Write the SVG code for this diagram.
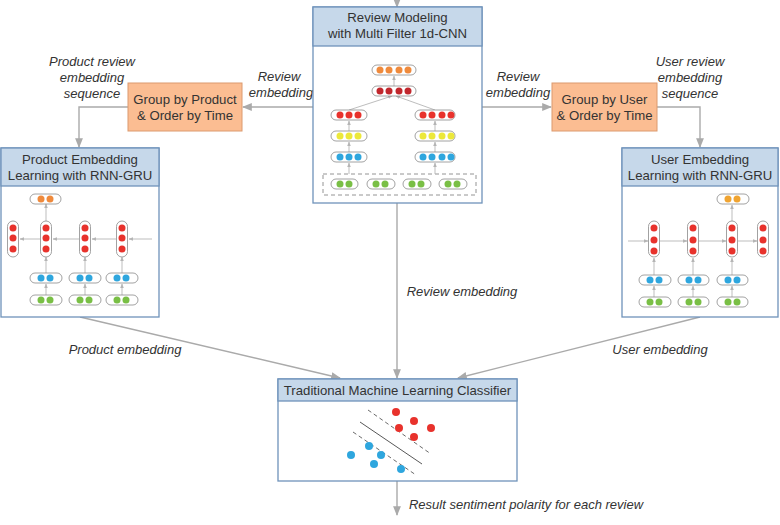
<svg xmlns="http://www.w3.org/2000/svg" width="780" height="525" viewBox="0 0 780 525">
<defs>
<style>
.box{fill:#fff;stroke:#6f93ba;stroke-width:1.3}
.hdr{fill:#c6d8ea;stroke:#6f93ba;stroke-width:1.3}
.org{fill:#fbbd92;stroke:#dc9a6e;stroke-width:1}
.t{font-family:"Liberation Sans",Arial,sans-serif;font-size:13.2px;fill:#333;text-anchor:middle}
.lbl{font-family:"Liberation Sans",Arial,sans-serif;font-size:13px;font-style:italic;fill:#333;text-anchor:middle}
.con{fill:none;stroke:#aaa;stroke-width:1.4}
.in{fill:none;stroke:#b5b5b5;stroke-width:0.9}
.pill{fill:#fff;stroke:#8a8a8a;stroke-width:0.8}
.o{fill:#ef8a3c}.dr{fill:#c1272d}.r{fill:#e8322c}.y{fill:#ece83a}.b{fill:#2ea6de}.g{fill:#79bf45}
</style>
<marker id="ah" viewBox="0 0 10 10" refX="9" refY="5" markerWidth="7" markerHeight="7" orient="auto"><path d="M0,1 L10,5 L0,9 z" fill="#aaa"/></marker>
<marker id="sa" viewBox="0 0 10 10" refX="9" refY="5" markerWidth="5" markerHeight="5" orient="auto"><path d="M0,1 L10,5 L0,9 z" fill="#b5b5b5"/></marker>
</defs>

<g id="connectors">
<line class="con" x1="397" y1="0" x2="397" y2="7" marker-end="url(#ah)"/>
<line class="con" x1="313" y1="107" x2="243" y2="107" marker-end="url(#ah)"/>
<polyline class="con" points="128,107 79,107 79,147" marker-end="url(#ah)"/>
<line class="con" x1="482" y1="107" x2="551" y2="107" marker-end="url(#ah)"/>
<polyline class="con" points="657,107 700,107 700,147" marker-end="url(#ah)"/>
<line class="con" x1="397" y1="203" x2="397" y2="378" marker-end="url(#ah)"/>
<line class="con" x1="80" y1="317" x2="340" y2="378" marker-end="url(#ah)"/>
<line class="con" x1="700" y1="317" x2="458" y2="378" marker-end="url(#ah)"/>
<line class="con" x1="397" y1="481" x2="397" y2="515" marker-end="url(#ah)"/>
<text class="lbl" x="92" y="66">Product review</text>
<text class="lbl" x="92" y="82">embedding</text>
<text class="lbl" x="92" y="98">sequence</text>
<text class="lbl" x="279" y="81">Review</text>
<text class="lbl" x="281" y="97">embedding</text>
<text class="lbl" x="518" y="81">Review</text>
<text class="lbl" x="518" y="97">embedding</text>
<text class="lbl" x="690" y="66">User review</text>
<text class="lbl" x="690" y="82">embedding</text>
<text class="lbl" x="690" y="98">sequence</text>
<text class="lbl" x="462" y="296">Review embedding</text>
<text class="lbl" x="125" y="354">Product embedding</text>
<text class="lbl" x="660" y="354">User embedding</text>
<text class="lbl" x="526" y="509">Result sentiment polarity for each review</text>
</g>

<g id="cnn">
<rect class="box" x="313" y="7" width="169" height="196"/>
<rect class="hdr" x="313" y="7" width="169" height="39"/>
<text class="t" x="397.5" y="22">Review Modeling</text>
<text class="t" x="397.5" y="38">with Multi Filter 1d-CNN</text>
<rect x="323" y="174" width="153" height="21" fill="none" stroke="#888" stroke-width="0.9" stroke-dasharray="4,3"/>
<line class="in" x1="349" y1="174" x2="349" y2="163" marker-end="url(#sa)"/>
<line class="in" x1="349" y1="152" x2="349" y2="142" marker-end="url(#sa)"/>
<line class="in" x1="349" y1="131" x2="349" y2="121" marker-end="url(#sa)"/>
<line class="in" x1="435" y1="174" x2="435" y2="163" marker-end="url(#sa)"/>
<line class="in" x1="435" y1="152" x2="435" y2="142" marker-end="url(#sa)"/>
<line class="in" x1="435" y1="131" x2="435" y2="121" marker-end="url(#sa)"/>
<line class="in" x1="349" y1="110" x2="392" y2="96" marker-end="url(#sa)"/>
<line class="in" x1="435" y1="110" x2="396" y2="96" marker-end="url(#sa)"/>
<line class="in" x1="394" y1="86" x2="394" y2="76" marker-end="url(#sa)"/>
<rect class="pill" x="372" y="65" width="44" height="10" rx="5"/>
<circle class="o" cx="380" cy="70" r="3.5"/><circle class="o" cx="389" cy="70" r="3.5"/><circle class="o" cx="399" cy="70" r="3.5"/><circle class="o" cx="408" cy="70" r="3.5"/>
<rect class="pill" x="372" y="86" width="44" height="10" rx="5"/>
<circle class="dr" cx="380" cy="91" r="3.5"/><circle class="dr" cx="389" cy="91" r="3.5"/><circle class="dr" cx="399" cy="91" r="3.5"/><circle class="dr" cx="408" cy="91" r="3.5"/>
<rect class="pill" x="331" y="110" width="36" height="10" rx="5"/>
<circle class="r" cx="340" cy="115" r="3.5"/><circle class="r" cx="349" cy="115" r="3.5"/><circle class="r" cx="358" cy="115" r="3.5"/>
<rect class="pill" x="331" y="131" width="36" height="10" rx="5"/>
<circle class="y" cx="340" cy="136" r="3.5"/><circle class="y" cx="349" cy="136" r="3.5"/><circle class="y" cx="358" cy="136" r="3.5"/>
<rect class="pill" x="331" y="152" width="36" height="10" rx="5"/>
<circle class="b" cx="340" cy="157" r="3.5"/><circle class="b" cx="349" cy="157" r="3.5"/><circle class="b" cx="358" cy="157" r="3.5"/>
<rect class="pill" x="415" y="110" width="40" height="10" rx="5"/>
<circle class="r" cx="423" cy="115" r="3.5"/><circle class="r" cx="432" cy="115" r="3.5"/><circle class="r" cx="442" cy="115" r="3.5"/><circle class="r" cx="451" cy="115" r="3.5"/>
<rect class="pill" x="415" y="131" width="40" height="10" rx="5"/>
<circle class="y" cx="423" cy="136" r="3.5"/><circle class="y" cx="432" cy="136" r="3.5"/><circle class="y" cx="442" cy="136" r="3.5"/><circle class="y" cx="451" cy="136" r="3.5"/>
<rect class="pill" x="415" y="152" width="40" height="10" rx="5"/>
<circle class="b" cx="423" cy="157" r="3.5"/><circle class="b" cx="432" cy="157" r="3.5"/><circle class="b" cx="442" cy="157" r="3.5"/><circle class="b" cx="451" cy="157" r="3.5"/>
<rect class="pill" x="331" y="179" width="27" height="10" rx="5"/>
<circle class="g" cx="340" cy="184" r="3.5"/><circle class="g" cx="349" cy="184" r="3.5"/>
<rect class="pill" x="367" y="179" width="28" height="10" rx="5"/>
<circle class="g" cx="376" cy="184" r="3.5"/><circle class="g" cx="385" cy="184" r="3.5"/>
<rect class="pill" x="403" y="179" width="28" height="10" rx="5"/>
<circle class="g" cx="412" cy="184" r="3.5"/><circle class="g" cx="421" cy="184" r="3.5"/>
<rect class="pill" x="439" y="179" width="28" height="10" rx="5"/>
<circle class="g" cx="448" cy="184" r="3.5"/><circle class="g" cx="457" cy="184" r="3.5"/>
</g>

<g id="group-product">
<rect class="org" x="128" y="83" width="114" height="48"/>
<text class="t" x="185" y="104">Group by Product</text>
<text class="t" x="185" y="120">&amp; Order by Time</text>
</g>

<g id="group-user">
<rect class="org" x="552" y="83" width="105" height="48"/>
<text class="t" x="604.5" y="104">Group by User</text>
<text class="t" x="604.5" y="120">&amp; Order by Time</text>
</g>

<g id="product-rnn">
<rect class="box" x="1" y="148" width="158" height="169"/>
<rect class="hdr" x="1" y="148" width="158" height="38"/>
<text class="t" x="80" y="164">Product Embedding</text>
<text class="t" x="80" y="180">Learning with RNN-GRU</text>
<line class="in" x1="152" y1="239" x2="129" y2="239" marker-end="url(#sa)"/>
<line class="in" x1="116" y1="239" x2="92" y2="239" marker-end="url(#sa)"/>
<line class="in" x1="79" y1="239" x2="53" y2="239" marker-end="url(#sa)"/>
<line class="in" x1="40" y1="239" x2="20" y2="239" marker-end="url(#sa)"/>
<line class="in" x1="46" y1="221" x2="46" y2="204" marker-end="url(#sa)"/>
<line class="in" x1="46" y1="295" x2="46" y2="284" marker-end="url(#sa)"/>
<line class="in" x1="46" y1="273" x2="46" y2="257" marker-end="url(#sa)"/>
<line class="in" x1="85" y1="295" x2="85" y2="284" marker-end="url(#sa)"/>
<line class="in" x1="85" y1="273" x2="85" y2="257" marker-end="url(#sa)"/>
<line class="in" x1="122" y1="295" x2="122" y2="284" marker-end="url(#sa)"/>
<line class="in" x1="122" y1="273" x2="122" y2="257" marker-end="url(#sa)"/>
<rect class="pill" x="30" y="194" width="31" height="10" rx="5"/>
<circle class="o" cx="41" cy="199" r="3.5"/><circle class="o" cx="50" cy="199" r="3.5"/>
<rect class="pill" x="7.5" y="221" width="11" height="36" rx="5.5"/>
<circle class="r" cx="13" cy="228" r="3.5"/><circle class="r" cx="13" cy="238" r="3.5"/><circle class="r" cx="13" cy="249" r="3.5"/>
<rect class="pill" x="40.5" y="221" width="11" height="36" rx="5.5"/>
<circle class="r" cx="46" cy="228" r="3.5"/><circle class="r" cx="46" cy="238" r="3.5"/><circle class="r" cx="46" cy="249" r="3.5"/>
<rect class="pill" x="79.5" y="221" width="11" height="36" rx="5.5"/>
<circle class="r" cx="85" cy="228" r="3.5"/><circle class="r" cx="85" cy="238" r="3.5"/><circle class="r" cx="85" cy="249" r="3.5"/>
<rect class="pill" x="116.5" y="221" width="11" height="36" rx="5.5"/>
<circle class="r" cx="122" cy="228" r="3.5"/><circle class="r" cx="122" cy="238" r="3.5"/><circle class="r" cx="122" cy="249" r="3.5"/>
<rect class="pill" x="30" y="273" width="32" height="10" rx="5"/>
<circle class="b" cx="41" cy="278" r="3.5"/><circle class="b" cx="50" cy="278" r="3.5"/>
<rect class="pill" x="69" y="273" width="32" height="10" rx="5"/>
<circle class="b" cx="80" cy="278" r="3.5"/><circle class="b" cx="89" cy="278" r="3.5"/>
<rect class="pill" x="106" y="273" width="32" height="10" rx="5"/>
<circle class="b" cx="117" cy="278" r="3.5"/><circle class="b" cx="126" cy="278" r="3.5"/>
<rect class="pill" x="30" y="295" width="32" height="10" rx="5"/>
<circle class="g" cx="41" cy="300" r="3.5"/><circle class="g" cx="50" cy="300" r="3.5"/>
<rect class="pill" x="69" y="295" width="32" height="10" rx="5"/>
<circle class="g" cx="80" cy="300" r="3.5"/><circle class="g" cx="89" cy="300" r="3.5"/>
<rect class="pill" x="106" y="295" width="32" height="10" rx="5"/>
<circle class="g" cx="117" cy="300" r="3.5"/><circle class="g" cx="126" cy="300" r="3.5"/>
</g>

<g id="user-rnn">
<rect class="box" x="622" y="148" width="156" height="169"/>
<rect class="hdr" x="622" y="148" width="156" height="38"/>
<text class="t" x="700" y="164">User Embedding</text>
<text class="t" x="700" y="180">Learning with RNN-GRU</text>
<line class="in" x1="628" y1="241" x2="648" y2="241" marker-end="url(#sa)"/>
<line class="in" x1="660" y1="241" x2="687" y2="241" marker-end="url(#sa)"/>
<line class="in" x1="699" y1="241" x2="726" y2="241" marker-end="url(#sa)"/>
<line class="in" x1="738" y1="241" x2="757" y2="241" marker-end="url(#sa)"/>
<line class="in" x1="732" y1="221" x2="732" y2="205" marker-end="url(#sa)"/>
<line class="in" x1="654" y1="297" x2="654" y2="286" marker-end="url(#sa)"/>
<line class="in" x1="654" y1="275" x2="654" y2="258" marker-end="url(#sa)"/>
<line class="in" x1="693" y1="297" x2="693" y2="286" marker-end="url(#sa)"/>
<line class="in" x1="693" y1="275" x2="693" y2="258" marker-end="url(#sa)"/>
<line class="in" x1="732" y1="297" x2="732" y2="286" marker-end="url(#sa)"/>
<line class="in" x1="732" y1="275" x2="732" y2="258" marker-end="url(#sa)"/>
<rect class="pill" x="717" y="194" width="32" height="10" rx="5"/>
<circle cx="728" cy="199" r="3.5" fill="#f0a431"/><circle cx="737" cy="199" r="3.5" fill="#f0a431"/>
<rect class="pill" x="648.5" y="221" width="11" height="36" rx="5.5"/>
<circle class="r" cx="654" cy="228" r="3.5"/><circle class="r" cx="654" cy="240" r="3.5"/><circle class="r" cx="654" cy="251" r="3.5"/>
<rect class="pill" x="687.5" y="221" width="11" height="36" rx="5.5"/>
<circle class="r" cx="693" cy="228" r="3.5"/><circle class="r" cx="693" cy="240" r="3.5"/><circle class="r" cx="693" cy="251" r="3.5"/>
<rect class="pill" x="726.5" y="221" width="11" height="36" rx="5.5"/>
<circle class="r" cx="732" cy="228" r="3.5"/><circle class="r" cx="732" cy="240" r="3.5"/><circle class="r" cx="732" cy="251" r="3.5"/>
<rect class="pill" x="757.5" y="221" width="11" height="36" rx="5.5"/>
<circle class="r" cx="763" cy="228" r="3.5"/><circle class="r" cx="763" cy="240" r="3.5"/><circle class="r" cx="763" cy="251" r="3.5"/>
<rect class="pill" x="639" y="275" width="32" height="10" rx="5"/>
<circle class="b" cx="650" cy="280" r="3.5"/><circle class="b" cx="659" cy="280" r="3.5"/>
<rect class="pill" x="678" y="275" width="31" height="10" rx="5"/>
<circle class="b" cx="689" cy="280" r="3.5"/><circle class="b" cx="698" cy="280" r="3.5"/>
<rect class="pill" x="717" y="275" width="31" height="10" rx="5"/>
<circle class="b" cx="728" cy="280" r="3.5"/><circle class="b" cx="737" cy="280" r="3.5"/>
<rect class="pill" x="639" y="297" width="32" height="10" rx="5"/>
<circle class="g" cx="650" cy="302" r="3.5"/><circle class="g" cx="659" cy="302" r="3.5"/>
<rect class="pill" x="678" y="297" width="31" height="10" rx="5"/>
<circle class="g" cx="689" cy="302" r="3.5"/><circle class="g" cx="698" cy="302" r="3.5"/>
<rect class="pill" x="717" y="297" width="31" height="10" rx="5"/>
<circle class="g" cx="728" cy="302" r="3.5"/><circle class="g" cx="737" cy="302" r="3.5"/>
</g>

<g id="classifier">
<rect class="box" x="278" y="379" width="239" height="102"/>
<rect class="hdr" x="278" y="379" width="239" height="22"/>
<text class="t" x="397.5" y="395">Traditional Machine Learning Classifier</text>
<line x1="368" y1="410" x2="431" y2="454" stroke="#444" stroke-width="0.8" stroke-dasharray="4,3"/>
<line x1="360" y1="422" x2="422" y2="464" stroke="#444" stroke-width="0.9"/>
<line x1="353" y1="432" x2="416" y2="475" stroke="#444" stroke-width="0.8" stroke-dasharray="4,3"/>
<circle class="r" cx="396" cy="412" r="4"/><circle class="r" cx="414" cy="421" r="4"/><circle class="r" cx="399" cy="428" r="4"/><circle class="r" cx="431" cy="428" r="4"/><circle class="r" cx="414" cy="437" r="4"/>
<circle class="b" cx="369" cy="446" r="4"/><circle class="b" cx="351" cy="455" r="4"/><circle class="b" cx="381" cy="455" r="4"/><circle class="b" cx="374" cy="464" r="4"/><circle class="b" cx="401" cy="469" r="4"/>
</g>
</svg>
